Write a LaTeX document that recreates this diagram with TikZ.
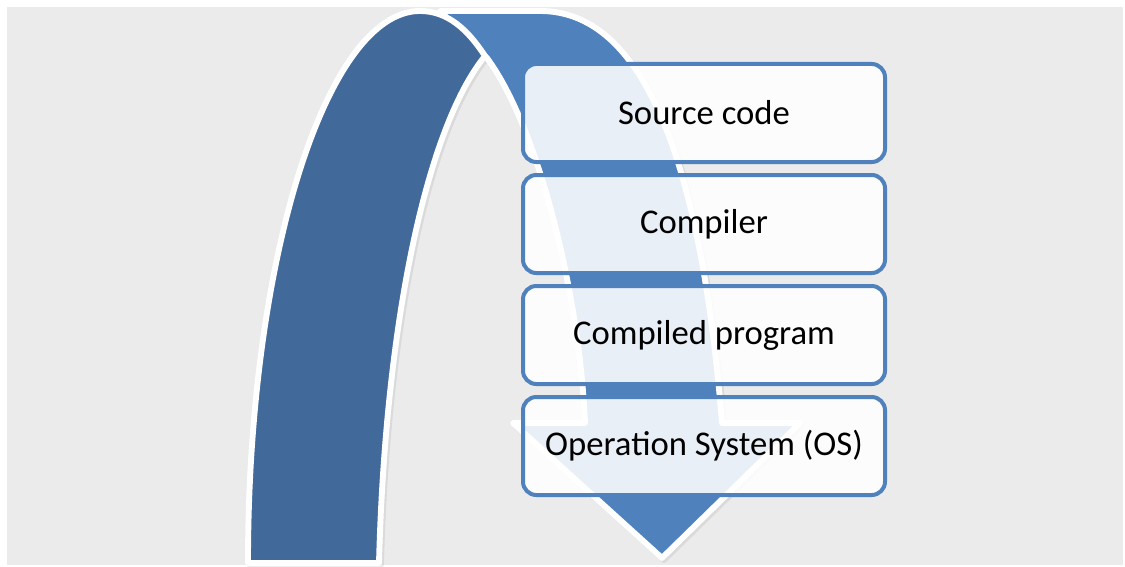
\documentclass[tikz,border=0pt]{standalone}
\usepackage{fontspec}
\setmainfont{Carlito}
\definecolor{bgGray}{HTML}{EBEBEB}
\definecolor{darkBand}{HTML}{41699A}
\definecolor{lightBand}{HTML}{4F81BD}
\definecolor{boxLine}{HTML}{4F81BD}
\begin{document}
\begin{tikzpicture}[x=0.75pt,y=-0.75pt,
  band/.style={draw=white, line width=4.4pt, line join=round},
  bandshadow/.style={draw=black, fill=black, line width=4.4pt, line join=round,
    draw opacity=0.07, fill opacity=0.07},
  stepbox/.style={draw=boxLine, line width=3pt, rounded corners=10pt,
    fill=white, fill opacity=0.88, text opacity=1,
    minimum width=271.5pt, minimum height=73.5pt,
    font=\fontsize{26pt}{30pt}\selectfont, text=black}]
\useasboundingbox (0,0) rectangle (1125,567);
\fill[bgGray] (7,7) rectangle (1123,565);
\def\lightpath{(440,11) -- (540,11) .. controls (640,11) and (700,150) .. (722,423)
  -- (800,423) -- (662,558) -- (513,423) -- (585,423)
  .. controls (580,300) and (540,130) .. (487,58) -- cycle}
\def\darkpath{(248,563) .. controls (248,258) and (327,11) .. (420,11)
  .. controls (448,11) and (468,30) .. (485,56)
  .. controls (425,130) and (385,330) .. (379,563) -- cycle}
% soft shadows
\begin{scope}[xshift=1.5pt,yshift=-1.5pt]
\path[bandshadow] \lightpath;
\path[bandshadow] \darkpath;
\end{scope}
% light (descending) band with arrow head
\path[band, fill=lightBand] \lightpath;
% dark (rising) band
\path[band, fill=darkBand] \darkpath;
% boxes
\node[stepbox] (src) at (704,113) {Source code};
\node[stepbox] (cmp) at (704,224) {Compiler};
\node[stepbox] (prg) at (704,335) {Compiled program};
\node[stepbox] (os)  at (704,446) {Operation System (OS)};
\end{tikzpicture}
\end{document}
